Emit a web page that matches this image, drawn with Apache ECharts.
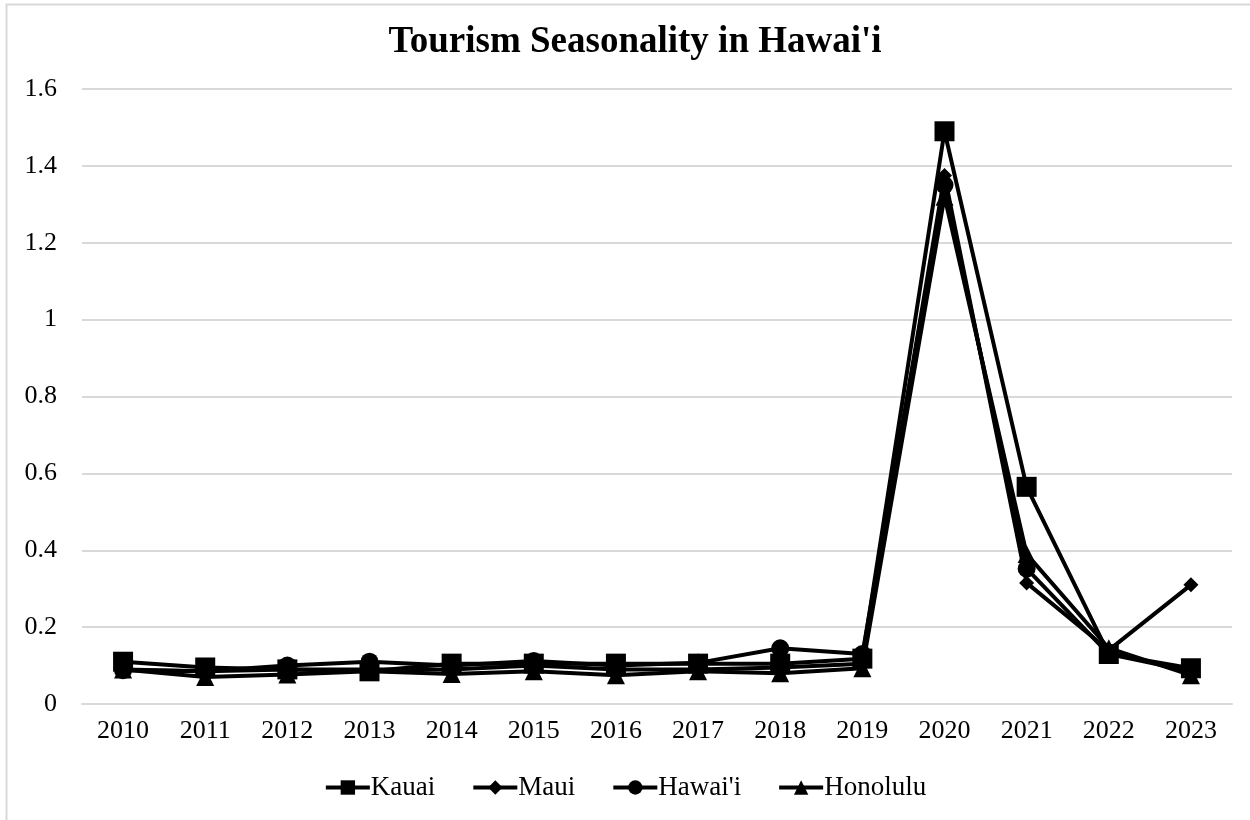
<!DOCTYPE html>
<html>
<head>
<meta charset="utf-8">
<script src="https://cdn.jsdelivr.net/npm/echarts@6/dist/echarts.min.js"></script>
<style>
html,body{margin:0;padding:0;background:#fff;}
#chart{width:1250px;height:820px;}
</style>
</head>
<body>
<div id="chart"></div>
<script>
const years = ['2010','2011','2012','2013','2014','2015','2016','2017','2018','2019','2020','2021','2022','2023'];
const kauai    = [0.110, 0.095, 0.090, 0.085, 0.105, 0.105, 0.105, 0.105, 0.105, 0.118, 1.490, 0.565, 0.130, 0.093];
const maui     = [0.090, 0.085, 0.090, 0.090, 0.090, 0.100, 0.090, 0.090, 0.095, 0.105, 1.375, 0.315, 0.140, 0.310];
const hawaii   = [0.088, 0.085, 0.100, 0.110, 0.100, 0.112, 0.100, 0.107, 0.145, 0.130, 1.350, 0.352, 0.130, 0.085];
const honolulu = [0.090, 0.070, 0.077, 0.085, 0.078, 0.085, 0.075, 0.085, 0.080, 0.093, 1.320, 0.390, 0.145, 0.075];
const seriesNames = ['Kauai', 'Maui', "Hawai'i", 'Honolulu'];
const FONT = '"Liberation Serif", "Times New Roman", serif';

const chart = echarts.init(document.getElementById('chart'), null, {renderer: 'canvas'});
function mk(name, data, symbol, size) {
  return {
    name: name, type: 'line', data: data,
    symbol: symbol, symbolSize: size,
    lineStyle: {color: '#000', width: 4},
    itemStyle: {color: '#000'},
    emphasis: {disabled: true},
    animation: false
  };
}
chart.setOption({
  backgroundColor: '#fff',
  animation: false,
  title: {
    text: "Tourism Seasonality in Hawai'i",
    left: 630, top: 19, textAlign: 'center',
    textStyle: {fontFamily: FONT, fontSize: 37, fontWeight: 'bold', color: '#000'}
  },
  legend: {
    data: seriesNames,
    bottom: 14, left: 'center',
    itemWidth: 44, itemHeight: 18, itemGap: 36,
    lineStyle: {width: 4, color: '#000'},
    textStyle: {fontFamily: FONT, fontSize: 27, color: '#000', padding: [0,0,0,-4]}
  },
  grid: {left: 82, right: 18, top: 89, bottom: 116, containLabel: false},
  xAxis: {
    type: 'category', data: years, boundaryGap: true,
    axisLine: {show: true, lineStyle: {color: '#d9d9d9', width: 2}},
    axisTick: {show: false},
    axisLabel: {fontFamily: FONT, fontSize: 26, color: '#000', margin: 14}
  },
  yAxis: {
    type: 'value', min: 0, max: 1.6, interval: 0.2,
    axisLine: {show: false}, axisTick: {show: false},
    splitLine: {lineStyle: {color: '#d9d9d9', width: 2}},
    axisLabel: {fontFamily: FONT, fontSize: 26, color: '#000', margin: 25}
  },
  series: [
    mk('Kauai', kauai, 'rect', 20),
    mk('Maui', maui, 'diamond', 15),
    mk("Hawai'i", hawaii, 'circle', 18),
    mk('Honolulu', honolulu, 'triangle', 18)
  ],
  graphic: [{
    type: 'rect', silent: true, z: 100,
    shape: {x: 6.5, y: 4.5, width: 1300, height: 900},
    style: {fill: 'none', stroke: '#d9d9d9', lineWidth: 2}
  }]
});
</script>
</body>
</html>
